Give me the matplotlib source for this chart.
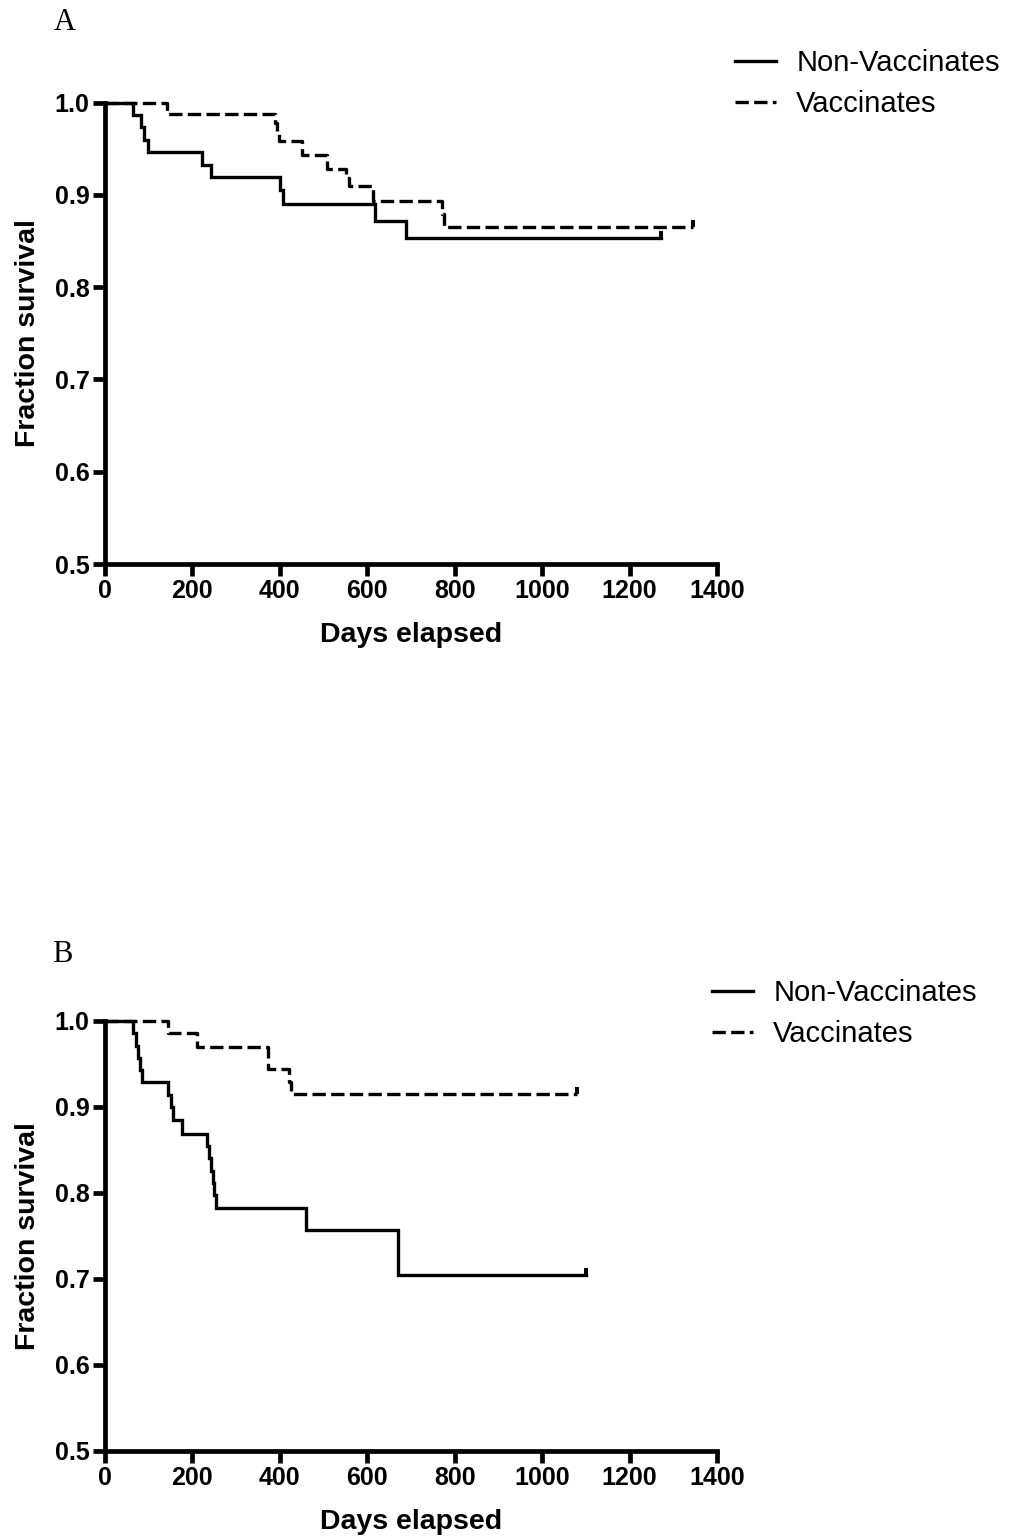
import matplotlib
matplotlib.use("Agg")
import matplotlib.pyplot as plt
from matplotlib.path import Path
from matplotlib.lines import Line2D

# ---------------- data ----------------
days_ticks = [0, 200, 400, 600, 800, 1000, 1200, 1400]
surv_ticks = [0.5, 0.6, 0.7, 0.8, 0.9, 1.0]
surv_tick_labels = ["0.5", "0.6", "0.7", "0.8", "0.9", "1.0"]
series_names = ["Non-Vaccinates", "Vaccinates"]

# Panel A
a_non_days = [0, 64, 82, 90, 98, 222, 242, 400, 408, 618, 689, 1272]
a_non_surv = [1.0, 0.986, 0.973, 0.959, 0.946, 0.932, 0.919, 0.905, 0.890, 0.872, 0.853, 0.853]
a_vac_days = [0, 142, 389, 393, 398, 451, 508, 552, 558, 613, 770, 775, 1345]
a_vac_surv = [1.0, 0.987, 0.978, 0.969, 0.958, 0.943, 0.928, 0.918, 0.909, 0.893, 0.879, 0.865, 0.865]

# Panel B
b_non_days = [0, 64, 70, 75, 80, 85, 144, 150, 156, 176, 234, 238, 242, 246, 250, 255, 459, 670, 1100]
b_non_surv = [1.0, 0.986, 0.971, 0.957, 0.943, 0.929, 0.914, 0.900, 0.885, 0.869,
              0.855, 0.841, 0.826, 0.812, 0.798, 0.783, 0.757, 0.705, 0.705]
b_vac_days = [0, 144, 210, 373, 420, 426, 1080]
b_vac_surv = [1.0, 0.986, 0.970, 0.944, 0.929, 0.915, 0.915]

panels = [
    ("A", a_non_days, a_non_surv, a_vac_days, a_vac_surv),
    ("B", b_non_days, b_non_surv, b_vac_days, b_vac_surv),
]

# ---------------- styling ----------------
W, H = 1016, 1538
fig = plt.figure(figsize=(W / 100, H / 100), dpi=100)
fig.patch.set_facecolor("white")

BOLD = dict(family="Liberation Sans", weight="bold")
LW = 2.4
SPINE_W = 3.4
DASH = (4.0, 1.6)
censor = Path([(0, 0), (0, 1)], [Path.MOVETO, Path.LINETO])

# pixel layout: (left, right, top, bottom), panel label pos, legend anchor, xlabel y, ylabel x
layouts = [
    dict(l=105, r=717, t=102.5, b=564, lab=(54, 22), leg=(735, 49), xl=635, yl=28),
    dict(l=105, r=717, t=1021, b=1451, lab=(52, 954), leg=(712, 979), xl=1522, yl=28),
]

def fx(px):
    return px / W

def fy(py):
    return 1 - py / H

for (name, nd, ns, vd, vs), L in zip(panels, layouts):
    ax = fig.add_axes([fx(L["l"]), fy(L["b"]), fx(L["r"] - L["l"]), (L["b"] - L["t"]) / H])
    ax.set_xlim(0, 1400)
    ax.set_ylim(0.5, 1.0)

    ax.step(nd, ns, where="post", color="black", lw=LW, clip_on=False,
            solid_joinstyle="miter", label=series_names[0])
    ax.plot([nd[-1]], [ns[-1]], marker=censor, ms=10, mew=2.8, color="black",
            clip_on=False, linestyle="none")
    ax.step(vd, vs, where="post", color="black", lw=LW, clip_on=False,
            linestyle=(0, DASH), label=series_names[1])
    ax.plot([vd[-1]], [vs[-1]], marker=censor, ms=10, mew=2.8, color="black",
            clip_on=False, linestyle="none")

    for s in ["top", "right"]:
        ax.spines[s].set_visible(False)
    for s in ["left", "bottom"]:
        ax.spines[s].set_linewidth(SPINE_W)
        ax.spines[s].set_capstyle("projecting")

    ax.set_xticks(days_ticks)
    ax.set_xticklabels([str(d) for d in days_ticks])
    ax.set_yticks(surv_ticks)
    ax.set_yticklabels(surv_tick_labels)
    ax.tick_params(axis="both", direction="out", length=8.5, width=SPINE_W, pad=2.5)
    for lab in ax.get_xticklabels() + ax.get_yticklabels():
        lab.set_fontfamily("Liberation Sans")
        lab.set_fontweight("bold")
        lab.set_fontsize(18)

    cx = (L["l"] + L["r"]) / 2
    cy = (L["t"] + L["b"]) / 2
    fig.text(fx(cx), fy(L["xl"]), "Days elapsed", ha="center", va="center",
             fontsize=20.5, **BOLD)
    fig.text(fx(L["yl"]), fy(cy), "Fraction survival", ha="center", va="center",
             rotation=90, fontsize=20.5, **BOLD)
    fig.text(fx(L["lab"][0]), fy(L["lab"][1]), name, ha="left", va="center",
             fontsize=22, family="Liberation Serif")

    handles = [
        Line2D([0], [0], color="black", lw=LW),
        Line2D([0], [0], color="black", lw=LW, linestyle=(0, DASH)),
    ]
    fig.legend(handles, series_names, loc="upper left",
               bbox_to_anchor=(fx(L["leg"][0]), fy(L["leg"][1])),
               bbox_transform=fig.transFigure, frameon=False,
               prop=dict(family="Liberation Sans", size=21),
               borderpad=0, borderaxespad=0, handlelength=1.4,
               handletextpad=0.7, labelspacing=0.46)

fig.savefig("out.png", dpi=100, facecolor="white")
